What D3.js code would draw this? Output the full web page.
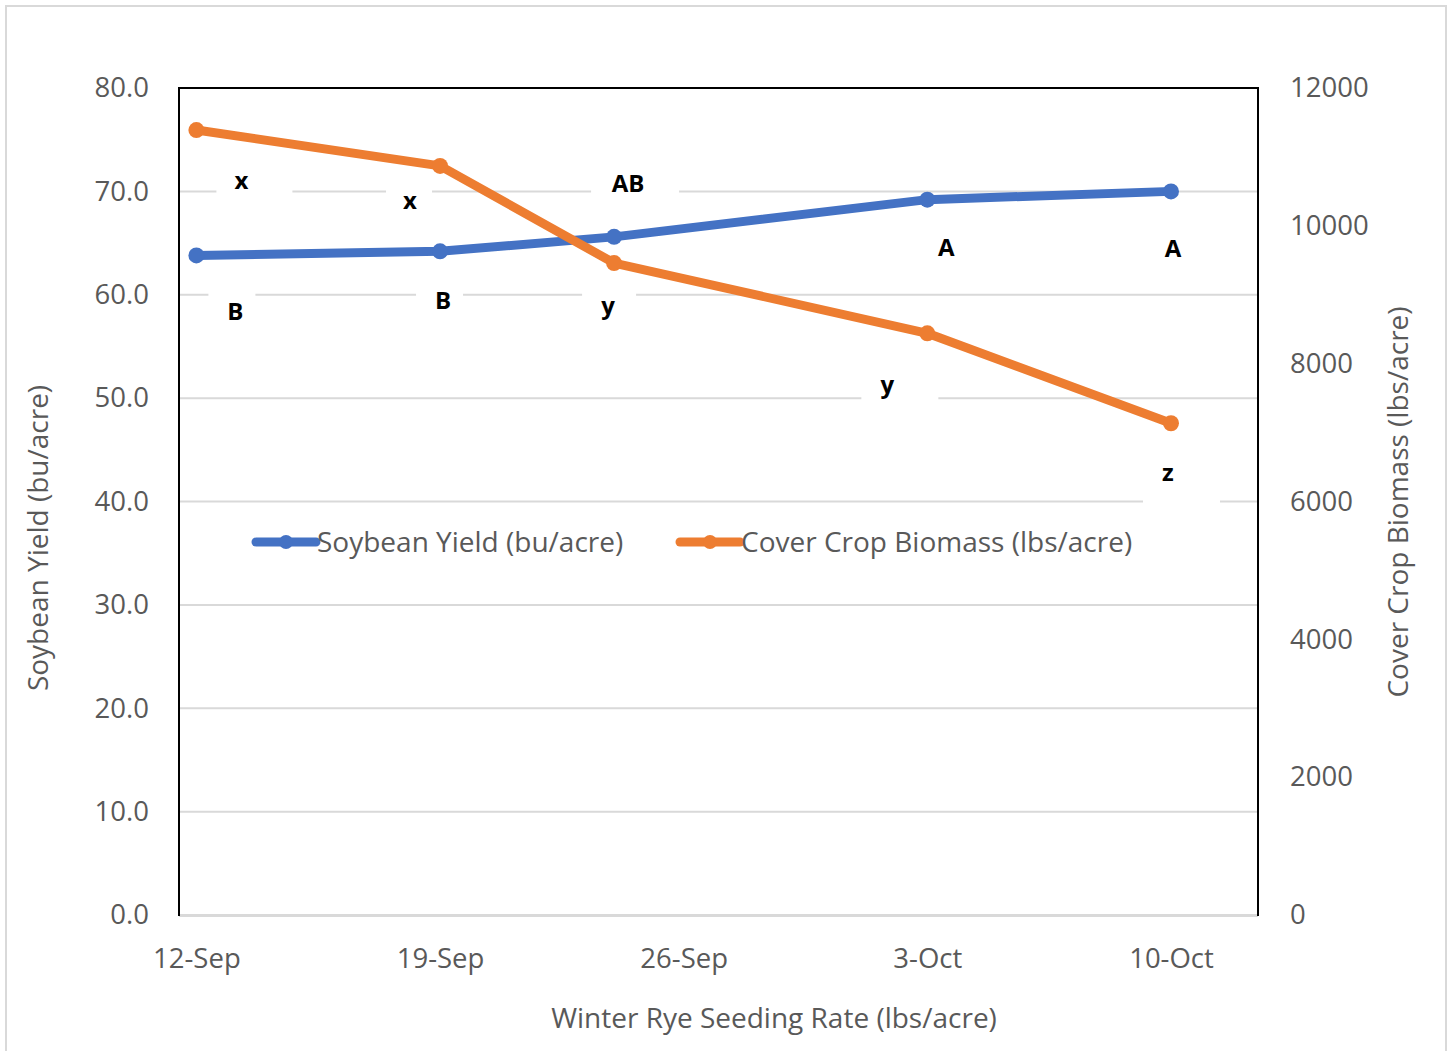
<!DOCTYPE html>
<html>
<head>
<meta charset="utf-8">
<script src="https://cdn.jsdelivr.net/npm/d3@7"></script>
<style>
  body { margin: 0; background: #fff; }
  text { font-family: "Open Sans", "Noto Sans", sans-serif; }
</style>
</head>
<body>
<svg id="chart" width="1454" height="1051"></svg>
<script>
// Seeding dates and measured responses
const seedingDates   = ["2019-09-12", "2019-09-19", "2019-09-24", "2019-10-03", "2019-10-10"];
const soybeanYield   = [63.8, 64.2, 65.6, 69.2, 70.0];        // bu/acre
const coverBiomass   = [11390, 10870, 9460, 8440, 7135];       // lbs/acre
// Mean-separation letters
const yieldLetters   = ["B", "B", "AB", "A", "A"];
const biomassLetters = ["x", "x", "y", "y", "z"];
// Axis ticks
const xTickDates     = ["2019-09-12", "2019-09-19", "2019-09-26", "2019-10-03", "2019-10-10"];
const yieldTicks     = [0, 10, 20, 30, 40, 50, 60, 70, 80];
const biomassTicks   = [0, 2000, 4000, 6000, 8000, 10000, 12000];
const seriesNames    = ["Soybean Yield (bu/acre)", "Cover Crop Biomass (lbs/acre)"];

// Layout
const W = 1454, H = 1051;
const plot = { left: 179, right: 1258, top: 88, bottom: 915 };
const colors = { yield: "#4472C4", biomass: "#ED7D31", text: "#595959", grid: "#D9D9D9" };
// Letter label placement relative to each point: [dx, dy, boxLeft, boxRight]
const yieldLabelPos   = [[39, 56, -27, 20], [3, 49, -27, 20], [14, -53, -37, 51], [19, 48, -27, 20], [2, 57, -27, 20]];
const biomassLabelPos = [[45, 51, -25, 51], [-30, 35, -24, 22], [-6, 43, -26, 28], [-40, 51, -26, 51], [-3, 49, -25, 52]];

const parse = d3.timeParse("%Y-%m-%d");
const dates = seedingDates.map(parse);

const svg = d3.select("#chart");
svg.append("rect").attr("width", W).attr("height", H).attr("fill", "#fff");
// chart frame
svg.append("rect").attr("x", 6).attr("y", 6).attr("width", 1440).attr("height", 1070)
  .attr("fill", "none").attr("stroke", colors.grid).attr("stroke-width", 2);

// each day occupies one slot; points sit in the middle of their day
const x = d3.scaleTime()
  .domain([d3.timeHour.offset(parse("2019-09-12"), -12), d3.timeHour.offset(parse("2019-10-12"), 12)])
  .range([plot.left, plot.right]);
const yL = d3.scaleLinear().domain([0, 80]).range([plot.bottom, plot.top]);
const yR = d3.scaleLinear().domain([0, 12000]).range([plot.bottom, plot.top]);

// horizontal gridlines
svg.append("g").selectAll("line")
  .data(yieldTicks.filter(t => t > 0 && t < 80))
  .join("line")
  .attr("x1", plot.left).attr("x2", plot.right)
  .attr("y1", d => yL(d)).attr("y2", d => yL(d))
  .attr("stroke", colors.grid).attr("stroke-width", 2);

// category (x) axis line
svg.append("line")
  .attr("x1", plot.left).attr("x2", plot.right)
  .attr("y1", plot.bottom + 0.5).attr("y2", plot.bottom + 0.5)
  .attr("stroke", colors.grid).attr("stroke-width", 3);

// plot border (top, left, right)
svg.append("path")
  .attr("d", `M${plot.left},${plot.bottom + 1}V${plot.top}H${plot.right}V${plot.bottom + 1}`)
  .attr("fill", "none").attr("stroke", "#000").attr("stroke-width", 2);

function styleAxis(g) {
  g.select(".domain").remove();
  g.selectAll("text").attr("fill", colors.text).style("font-size", "27.5px")
    .style("font-family", '"Open Sans", sans-serif');
}

svg.append("g").attr("transform", `translate(${plot.left},0)`)
  .call(d3.axisLeft(yL).tickValues(yieldTicks).tickFormat(d3.format(".1f")).tickSize(0).tickPadding(30))
  .call(styleAxis);

svg.append("g").attr("transform", `translate(${plot.right},0)`)
  .call(d3.axisRight(yR).tickValues(biomassTicks).tickFormat(d3.format("d")).tickSize(0).tickPadding(32))
  .call(styleAxis);

svg.append("g").attr("transform", `translate(0,${plot.bottom})`)
  .call(d3.axisBottom(x).tickValues(xTickDates.map(parse)).tickFormat(d3.timeFormat("%-d-%b")).tickSize(0).tickPadding(33))
  .call(styleAxis);

// axis titles
const titleStyle = s => s.attr("fill", colors.text).attr("text-anchor", "middle")
  .style("font-size", "28px");
svg.append("text").attr("transform", "translate(38,538) rotate(-90)")
  .attr("dy", "0.35em").text(seriesNames[0]).call(titleStyle);
svg.append("text").attr("transform", "translate(1398,502) rotate(-90)")
  .attr("dy", "0.35em").text(seriesNames[1]).call(titleStyle);
svg.append("text").attr("x", 774).attr("y", 1018)
  .attr("dy", "0.35em").text("Winter Rye Seeding Rate (lbs/acre)").call(titleStyle);

// series
const series = [
  { values: soybeanYield, scale: yL, color: colors.yield, letters: yieldLetters, pos: yieldLabelPos },
  { values: coverBiomass, scale: yR, color: colors.biomass, letters: biomassLetters, pos: biomassLabelPos }
];

series.forEach(s => {
  const pts = s.values.map((v, i) => [x(dates[i]), s.scale(v)]);
  svg.append("path").attr("d", d3.line()(pts))
    .attr("fill", "none").attr("stroke", s.color).attr("stroke-width", 9)
    .attr("stroke-linejoin", "round").attr("stroke-linecap", "round");
  svg.append("g").selectAll("circle").data(pts).join("circle")
    .attr("cx", d => d[0]).attr("cy", d => d[1]).attr("r", 8).attr("fill", s.color);
});

// letter labels with white backing boxes
series.forEach(s => {
  const g = svg.append("g");
  s.values.forEach((v, i) => {
    const [dx, dy, bl, br] = s.pos[i];
    const cx = x(dates[i]) + dx, cy = s.scale(v) + dy;
    g.append("rect").attr("x", cx + bl).attr("y", cy - 22)
      .attr("width", br - bl).attr("height", 58).attr("fill", "#fff");
    g.append("text").attr("x", cx).attr("y", cy).attr("dy", "0.35em")
      .attr("text-anchor", "middle").attr("fill", "#000")
      .style("font-size", "24px").style("font-weight", "bold")
      .text(s.letters[i]);
  });
});

// legend
const legend = [
  { name: seriesNames[0], color: colors.yield, x0: 256 },
  { name: seriesNames[1], color: colors.biomass, x0: 680 }
];
const lg = svg.append("g");
legend.forEach(l => {
  lg.append("line").attr("x1", l.x0).attr("x2", l.x0 + 60).attr("y1", 542).attr("y2", 542)
    .attr("stroke", l.color).attr("stroke-width", 9).attr("stroke-linecap", "round");
  lg.append("circle").attr("cx", l.x0 + 30).attr("cy", 542).attr("r", 7).attr("fill", l.color);
  lg.append("text").attr("x", l.x0 + 61).attr("y", 542).attr("dy", "0.35em")
    .attr("fill", colors.text).style("font-size", "28px").text(l.name);
});
</script>
</body>
</html>
